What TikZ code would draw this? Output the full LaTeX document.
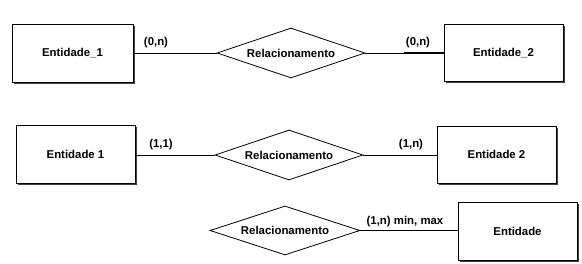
\documentclass[tikz,border=0pt]{standalone}
\usepackage{fontspec}
\setmainfont{Liberation Sans}
\usetikzlibrary{shapes.geometric}
\usetikzlibrary{shadows}
\usetikzlibrary{calc}

\tikzset{
    entidade/.style={rectangle, draw=black, fill=white, line width=0.9pt,
        minimum width=119pt, minimum height=57pt, inner sep=0pt,
        drop shadow={shadow xshift=2pt, shadow yshift=-2pt, fill=black!75, opacity=1},
        font=\fontsize{11.4}{13}\selectfont\bfseries},
    relac/.style={diamond, draw=black, fill=white, line width=0.8pt, aspect=3,
        minimum width=148pt, minimum height=50pt, inner sep=0pt,
        font=\fontsize{11.4}{13}\selectfont\bfseries},
    card/.style={inner sep=0pt, font=\fontsize{11.4}{13}\selectfont\bfseries},
    liga/.style={draw=black, line width=0.8pt}
}

\begin{document}
\begin{tikzpicture}[x=1pt,y=-1pt]
        \useasboundingbox (0,0) rectangle (582,264);

        % primeira linha
        \node[entidade, minimum width=121pt, minimum height=58pt] (ent1) at (72.5,53) {Entidade\_1};
        \node[relac] (rel1) at (291,53) {Relacionamento};
        \node[entidade] (ent2) at (503.5,53) {Entidade\_2};

        \draw[liga] (ent1) -- (rel1);
        \draw[liga] (rel1) -- (ent2);
        \draw[liga, line width=1.6pt] ($(rel1.east)!0.5!(ent2.west)$) -- (ent2.west);

        \node[card] (c1) at (156,43) {(0,n)};
        \node[card] (c2) at (418,43) {(0,n)};

        % segunda linha
        \node[entidade, minimum height=58pt] (ent1b) at (75.5,154) {Entidade 1};
        \node[relac] (rel2) at (289,155) {Relacionamento};
        \node[entidade] (ent2b) at (496.5,154.5) {Entidade 2};

        \draw[liga] (ent1b.east |- rel2) -- (rel2);
        \draw[liga] (rel2) -- (ent2b.west |- rel2);

        \node[card] (c3) at (161,145) {(1,1)};
        \node[card] (c4) at (411,145) {(1,n)};

        % terceira linha
        \node[relac, minimum width=150pt, minimum height=49pt] (rel3) at (285,230.5) {Relacionamento};
        \node[entidade, minimum height=58pt] (ent) at (517.5,231) {Entidade};

        \draw[liga] (rel3) -- (ent.west |- rel3);

        \node[card] (c5) at (405,222) {(1,n) min, max};

    \end{tikzpicture}
\end{document}
